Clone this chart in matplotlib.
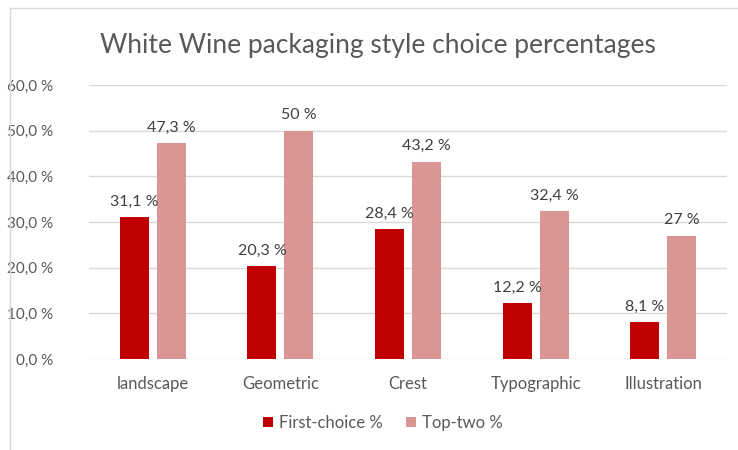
import matplotlib
matplotlib.use("Agg")
import matplotlib.pyplot as plt
import numpy as np
from matplotlib.lines import Line2D

categories = ["landscape", "Geometric", "Crest", "Typographic", "Illustration"]
first_choice = [31.1, 20.3, 28.4, 12.2, 8.1]
top_two = [47.3, 50.0, 43.2, 32.4, 27.0]
series_names = ["First-choice %", "Top-two %"]
yticks = [0, 10, 20, 30, 40, 50, 60]

plt.rcParams['font.family'] = ['Lato', 'DejaVu Sans']

fig = plt.figure(figsize=(7.38, 4.5), dpi=100)
W, H = 738, 450
ax = fig.add_axes([89 / W, 1 - 359 / H, (727 - 89) / W, (359 - 85) / H])

x = np.arange(len(categories))
bw = 0.227
gap = 0.063
c1, c2 = "#C00000", "#DA9694"
b1 = ax.bar(x - (bw + gap) / 2, first_choice, bw, color=c1, label=series_names[0], zorder=3)
b2 = ax.bar(x + (bw + gap) / 2, top_two, bw, color=c2, label=series_names[1], zorder=3)

def fmt(v):
    s = f"{v:.1f}".replace(".", ",")
    if s.endswith(",0"):
        s = s[:-2]
    return s + " %"

for bars, vals in ((b1, first_choice), (b2, top_two)):
    for r, v in zip(bars, vals):
        ax.annotate(fmt(v), (r.get_x() + r.get_width() / 2, v), xytext=(0, 6),
                    textcoords="offset points", ha="center", va="bottom",
                    fontsize=11.5, color="#404040")

ax.set_xlim(-0.5, len(categories) - 0.5)
ax.set_ylim(0, 60)
ax.set_yticks(yticks)
ax.set_yticklabels([f"{t:.1f}".replace(".", ",") + " %" for t in yticks])
ax.set_xticks(x)
ax.set_xticklabels(categories)
ax.tick_params(axis="both", length=0, labelcolor="#595959")
ax.tick_params(axis="y", pad=26, labelsize=11)
ax.tick_params(axis="x", pad=12, labelsize=12)
for lbl in ax.get_yticklabels():
    lbl.set_horizontalalignment("right")
ax.grid(axis="y", color="#D9D9D9", linewidth=1, zorder=0)
for s in ax.spines.values():
    s.set_visible(False)
ax.set_axisbelow(True)

fig.text(378 / W, 1 - 45 / H, "White Wine packaging style choice percentages",
         ha="center", va="center", fontsize=19, color="#595959")

leg = fig.legend(handles=[b1, b2], labels=series_names, loc="center",
                 bbox_to_anchor=(383 / W, 1 - 423 / H), ncol=2, frameon=False,
                 fontsize=12, handlelength=0.6, handleheight=0.6,
                 handletextpad=0.35, columnspacing=1.4)
for t in leg.get_texts():
    t.set_color("#595959")

fig.add_artist(Line2D([10 / W, 1.0], [1 - 8 / H, 1 - 8 / H], transform=fig.transFigure,
                      color="#D9D9D9", linewidth=1))
fig.add_artist(Line2D([10 / W, 10 / W], [0, 1 - 8 / H], transform=fig.transFigure,
                      color="#D9D9D9", linewidth=1))

fig.savefig("out.png", dpi=100)
